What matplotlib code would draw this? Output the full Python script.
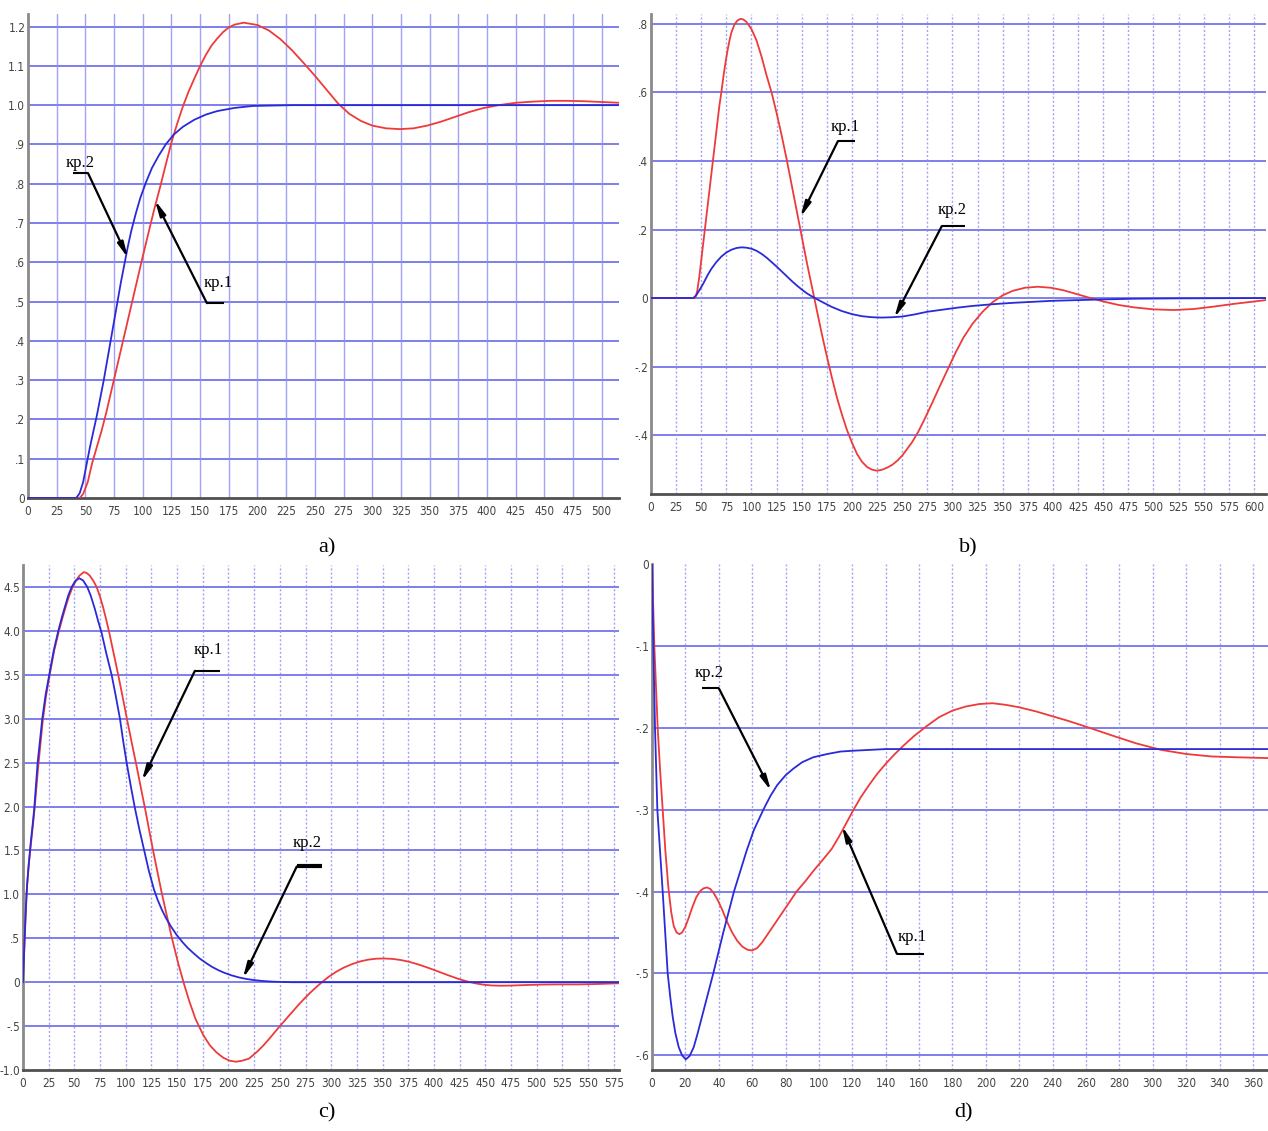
import matplotlib
matplotlib.use("Agg")
import matplotlib.pyplot as plt
from matplotlib import font_manager

# ---- panel a) ----
a_red_t = [0, 45, 48, 52, 56, 60, 64, 68, 72, 76, 80, 84, 88, 92, 96, 100, 105, 110, 115, 120, 125,
           130, 135, 140, 145, 150, 155, 160, 165, 170, 175, 180, 188, 200, 210, 220, 230, 240, 250,
           260, 270, 280, 290, 300, 312, 324, 336, 348, 360, 372, 384, 396, 410, 425, 440, 455, 470,
           485, 500, 516]
a_red_y = [0, 0, 0.01, 0.04, 0.09, 0.13, 0.17, 0.215, 0.265, 0.315, 0.365, 0.415, 0.465, 0.515, 0.565,
           0.615, 0.675, 0.735, 0.79, 0.848, 0.905, 0.953, 0.997, 1.035, 1.068, 1.1, 1.128, 1.152, 1.17,
           1.186, 1.198, 1.205, 1.21, 1.204, 1.19, 1.168, 1.14, 1.108, 1.075, 1.04, 1.005, 0.978, 0.96,
           0.948, 0.941, 0.939, 0.941, 0.948, 0.958, 0.97, 0.982, 0.992, 1.0, 1.006, 1.009, 1.011, 1.011,
           1.01, 1.008, 1.006]
a_blue_t = [0, 42, 45, 48, 51, 54, 57, 60, 63, 66, 69, 72, 75, 78, 81, 84, 87, 90, 94, 98, 103, 108,
            114, 120, 127, 135, 145, 155, 165, 180, 196, 230, 516]
a_blue_y = [0, 0, 0.012, 0.04, 0.085, 0.13, 0.17, 0.21, 0.255, 0.3, 0.35, 0.4, 0.45, 0.5, 0.55, 0.595,
            0.64, 0.68, 0.725, 0.765, 0.805, 0.84, 0.872, 0.9, 0.925, 0.945, 0.963, 0.976, 0.985, 0.993,
            0.998, 1.0, 1.0]
a_yticks = [0, 0.1, 0.2, 0.3, 0.4, 0.5, 0.6, 0.7, 0.8, 0.9, 1.0, 1.1, 1.2]
a_ylabels = ["0", ".1", ".2", ".3", ".4", ".5", ".6", ".7", ".8", ".9", "1.0", "1.1", "1.2"]
a_xticks = list(range(0, 501, 25))

# ---- panel b) ----
b_red_t = [0, 44, 46, 48, 50, 52, 54, 56, 58, 60, 62, 64, 66, 68, 70, 72, 74, 76, 78, 80, 83, 86, 89,
           92, 95, 100, 105, 110, 115, 120, 125, 130, 135, 140, 145, 150, 155, 160, 165, 170, 175, 180,
           185, 190, 195, 200, 205, 210, 215, 220, 225, 230, 235, 240, 245, 250, 255, 260, 266, 272,
           280, 287, 295, 303, 311, 320, 330, 340, 350, 360, 372, 385, 398, 410, 422, 435, 450, 465,
           480, 500, 520, 540, 560, 580, 612]
b_red_y = [0, 0, 0.02, 0.06, 0.11, 0.16, 0.21, 0.26, 0.31, 0.36, 0.41, 0.46, 0.51, 0.56, 0.6, 0.645,
           0.685, 0.72, 0.75, 0.775, 0.798, 0.81, 0.815, 0.813, 0.806, 0.785, 0.752, 0.705, 0.65, 0.6,
           0.54, 0.475, 0.405, 0.33, 0.255, 0.18, 0.105, 0.035, -0.035, -0.105, -0.17, -0.232, -0.29,
           -0.34, -0.385, -0.422, -0.455, -0.478, -0.493, -0.501, -0.504, -0.501, -0.495, -0.487,
           -0.475, -0.46, -0.44, -0.42, -0.39, -0.355, -0.305, -0.26, -0.21, -0.16, -0.115, -0.075,
           -0.04, -0.012, 0.008, 0.021, 0.03, 0.033, 0.03, 0.023, 0.013, 0.002, -0.01, -0.02, -0.027,
           -0.033, -0.035, -0.032, -0.025, -0.017, -0.006]
b_blue_t = [0, 42, 45, 48, 52, 56, 60, 65, 70, 75, 80, 85, 90, 95, 100, 105, 110, 115, 120, 125, 130,
            135, 140, 145, 150, 155, 160, 165, 170, 180, 190, 200, 210, 220, 230, 240, 250, 262, 275,
            290, 305, 320, 340, 360, 380, 400, 425, 450, 480, 520, 612]
b_blue_y = [0, 0, 0.008, 0.022, 0.042, 0.065, 0.085, 0.105, 0.121, 0.133, 0.141, 0.146, 0.148, 0.147,
            0.144, 0.138, 0.129, 0.118, 0.105, 0.092, 0.078, 0.064, 0.05, 0.037, 0.025, 0.014, 0.005,
            -0.003, -0.011, -0.026, -0.038, -0.047, -0.053, -0.056, -0.057, -0.056, -0.054, -0.048,
            -0.04, -0.034, -0.028, -0.023, -0.018, -0.014, -0.011, -0.008, -0.006, -0.004, -0.002,
            -0.001, 0.0]
b_yticks = [-0.4, -0.2, 0, 0.2, 0.4, 0.6, 0.8]
b_ylabels = ["-.4", "-.2", "0", ".2", ".4", ".6", ".8"]
b_xticks = list(range(0, 601, 25))

# ---- panel c) ----
c_red_t = [0, 1, 2, 3, 4, 5.8, 7.8, 9.8, 11.3, 14.8, 19.3, 22.5, 26, 30.5, 35, 39, 42, 45, 48, 51.5, 55,
           59.3, 62, 65, 68.5, 71.7, 75, 78, 81, 84, 88, 92.7, 97, 101.5, 106, 110.6, 115, 119.3, 123,
           127, 131, 135, 140, 145, 151, 157, 162, 168, 175.4, 182, 188.4, 195, 201, 207, 213, 220,
           228, 234, 240, 245, 250, 256, 262, 268, 274, 280, 286, 292, 298, 305, 312, 320, 328, 336,
           344, 352, 360, 368, 376, 384, 392, 400, 408, 416, 424, 432, 440, 448, 456, 465, 475, 490,
           505, 520, 540, 560, 580]
c_red_y = [0, 0.3, 0.6, 0.88, 1.1, 1.35, 1.58, 1.8, 1.97, 2.45, 2.98, 3.26, 3.5, 3.78, 4.0, 4.17, 4.29,
           4.4, 4.49, 4.57, 4.63, 4.67, 4.66, 4.63, 4.57, 4.5, 4.39, 4.27, 4.13, 3.98, 3.76, 3.5, 3.25,
           2.98, 2.72, 2.46, 2.2, 1.95, 1.72, 1.48, 1.25, 1.02, 0.76, 0.5, 0.22, -0.03, -0.22, -0.42,
           -0.6, -0.72, -0.8, -0.86, -0.893, -0.905, -0.895, -0.87, -0.79, -0.72, -0.64, -0.57, -0.5,
           -0.42, -0.34, -0.26, -0.185, -0.115, -0.05, 0.01, 0.065, 0.12, 0.165, 0.205, 0.236, 0.257,
           0.268, 0.27, 0.265, 0.252, 0.232, 0.205, 0.174, 0.14, 0.105, 0.07, 0.037, 0.01, -0.012,
           -0.028, -0.037, -0.04, -0.038, -0.032, -0.027, -0.025, -0.025, -0.02, -0.012]
c_blue_t = [0, 1, 2, 3, 4, 5.5, 7.5, 9.5, 11, 14.3, 18.8, 22, 25.6, 30, 34.4, 38, 41, 44, 47.4, 51,
            54.8, 58.5, 62.6, 66, 70, 73, 76.5, 81, 86.3, 90, 94.4, 97.5, 100.9, 105, 109, 113.5, 118,
            122.5, 127.4, 131, 135, 139, 144, 149.5, 155, 160, 166, 172, 178, 184, 190, 196, 203, 210,
            217, 225, 233, 242, 252, 262, 580]
c_blue_y = [0, 0.3, 0.6, 0.88, 1.1, 1.33, 1.58, 1.8, 1.98, 2.5, 3.0, 3.27, 3.5, 3.78, 4.0, 4.16, 4.28,
            4.4, 4.5, 4.57, 4.6, 4.575, 4.5, 4.4, 4.25, 4.12, 3.98, 3.75, 3.5, 3.28, 3.0, 2.75, 2.5,
            2.23, 1.98, 1.73, 1.5, 1.27, 1.06, 0.94, 0.83, 0.735, 0.635, 0.54, 0.46, 0.395, 0.33, 0.27,
            0.22, 0.175, 0.138, 0.107, 0.078, 0.055, 0.038, 0.024, 0.014, 0.007, 0.003, 0.0, 0.0]
c_yticks = [-1.0, -0.5, 0, 0.5, 1.0, 1.5, 2.0, 2.5, 3.0, 3.5, 4.0, 4.5]
c_ylabels = ["-1.0", "-.5", "0", ".5", "1.0", "1.5", "2.0", "2.5", "3.0", "3.5", "4.0", "4.5"]
c_xticks = list(range(0, 576, 25))

# ---- panel d) ----
d_red_t = [0, 0.7, 1.4, 2.4, 3.4, 4.8, 6.4, 8, 9.8, 11.5, 13, 14.7, 16.4, 18, 20, 22, 24, 26.5, 29, 31,
           33, 35, 37, 39.5, 42, 45, 48, 51, 54, 57, 60, 63, 66, 69, 72, 76, 80, 86.6, 92, 97, 102,
           107.6, 112, 116, 120.2, 125, 130, 135, 140, 145, 150, 157, 164.5, 172, 180, 188, 196, 204,
           212, 220, 230, 240, 250, 262, 275, 290, 305, 320, 335, 350, 369]
d_red_y = [0, -0.05, -0.1, -0.15, -0.2, -0.25, -0.3, -0.35, -0.395, -0.425, -0.442, -0.45, -0.452,
           -0.45, -0.443, -0.432, -0.42, -0.407, -0.399, -0.396, -0.395, -0.397, -0.402, -0.411, -0.422,
           -0.437, -0.45, -0.46, -0.467, -0.471, -0.472, -0.469, -0.462, -0.453, -0.444, -0.432, -0.42,
           -0.4, -0.387, -0.374, -0.362, -0.348, -0.333, -0.318, -0.302, -0.285, -0.27, -0.256, -0.244,
           -0.233, -0.223, -0.21, -0.198, -0.187, -0.179, -0.174, -0.171, -0.17, -0.172, -0.175, -0.18,
           -0.186, -0.192, -0.2, -0.209, -0.219, -0.227, -0.232, -0.235, -0.236, -0.237]
d_blue_t = [0, 0.4, 0.8, 1.3, 1.8, 2.5, 3.2, 4.8, 6.4, 7.9, 9.4, 11, 12.4, 14, 16, 18, 20.2, 22.5, 25,
            27.5, 30.3, 33.5, 36.7, 39.7, 42.7, 45.9, 49.1, 52.9, 56.7, 61, 66.7, 71, 75, 80, 84.6, 90,
            96.6, 105, 113, 120.6, 140, 170, 369]
d_blue_y = [0, -0.05, -0.1, -0.15, -0.2, -0.25, -0.3, -0.35, -0.4, -0.45, -0.5, -0.53, -0.553, -0.573,
            -0.59, -0.6, -0.605, -0.601, -0.59, -0.572, -0.55, -0.525, -0.5, -0.475, -0.45, -0.425,
            -0.4, -0.375, -0.35, -0.325, -0.3, -0.283, -0.27, -0.258, -0.25, -0.242, -0.236, -0.232,
            -0.229, -0.228, -0.226, -0.226, -0.226]
d_yticks = [-0.6, -0.5, -0.4, -0.3, -0.2, -0.1, 0]
d_ylabels = ["-.6", "-.5", "-.4", "-.3", "-.2", "-.1", "0"]
d_xticks = list(range(0, 361, 20))

RED = "#ee3a3a"
BLUE = "#2a2ad8"
GRID_H = "#5c5ce8"
GRID_V = "#8c8cf2"

names = {f.name for f in font_manager.fontManager.ttflist}
TICK_FONT = "Liberation Sans Narrow" if "Liberation Sans Narrow" in names else "DejaVu Sans"
TICK_SIZE = 9.5 if TICK_FONT == "Liberation Sans Narrow" else 8.5
SERIF = "Liberation Serif"

fig = plt.figure(figsize=(12.68, 11.31), dpi=100)


def panel(rect, xlim, ylim, xticks, yticks, ylabels, red, blue, vdash):
    ax = fig.add_axes(rect)
    ax.set_xlim(*xlim)
    ax.set_ylim(*ylim)
    for v in yticks:
        if ylim[0] < v < ylim[1]:
            ax.axhline(v, color=GRID_H, lw=1.3, alpha=0.85, zorder=1)
    for v in xticks:
        if v > xlim[0]:
            ax.axvline(v, color=GRID_V, lw=1.0, alpha=0.8, zorder=1,
                       linestyle=(0, (1.5, 1.5)) if vdash else "-")
    ax.plot(red[0], red[1], color=RED, lw=1.3, zorder=3)
    ax.plot(blue[0], blue[1], color=BLUE, lw=1.3, zorder=3)
    ax.set_xticks(xticks)
    ax.set_xticklabels([str(v) for v in xticks])
    ax.set_yticks(yticks)
    ax.set_yticklabels(ylabels)
    ax.tick_params(length=0, labelsize=TICK_SIZE, labelcolor="#444444", pad=5)
    ax.tick_params(axis="y", pad=2)
    for lab in ax.get_xticklabels() + ax.get_yticklabels():
        lab.set_fontfamily(TICK_FONT)
        lab.set_fontstretch("condensed")
    ax.spines["top"].set_visible(False)
    ax.spines["right"].set_visible(False)
    ax.spines["left"].set_color("#8a8a8a")
    ax.spines["left"].set_linewidth(2)
    ax.spines["bottom"].set_color("#505050")
    ax.spines["bottom"].set_linewidth(2)
    return ax


def leader(ax, label, text_xy, h_x, h_y, corner_x, tip, lw_h=1.5):
    ax.plot(h_x, [h_y, h_y], color="black", lw=lw_h, zorder=5, solid_capstyle="butt")
    ax.annotate("", xy=tip, xytext=(corner_x, h_y),
                arrowprops=dict(arrowstyle="-|>,head_length=0.9,head_width=0.18",
                                color="black", lw=1.6, shrinkA=0, shrinkB=0),
                zorder=5)
    ax.text(text_xy[0], text_xy[1], label, ha="center", va="center",
            fontfamily=SERIF, fontsize=12, zorder=6)


ax_a = panel([0.0221, 0.5597, 0.466, 0.4279], (0, 515), (0, 1.232), a_xticks, a_yticks, a_ylabels,
             (a_red_t, a_red_y), (a_blue_t, a_blue_y), vdash=False)
leader(ax_a, "кр.2", (45.3, 0.852), [39.2, 52.3], 0.827, 52.3, (87.1, 0.611))
leader(ax_a, "кр.1", (165.5, 0.547), [155.9, 170.7], 0.496, 155.9, (110.6, 0.758))

ax_b = panel([0.5134, 0.5632, 0.485, 0.4244], (0, 612), (-0.572, 0.829), b_xticks, b_yticks, b_ylabels,
             (b_red_t, b_red_y), (b_blue_t, b_blue_y), vdash=True)
leader(ax_b, "кр.1", (192.9, 0.499), [186, 202.8], 0.458, 186, (148.6, 0.236))
leader(ax_b, "кр.2", (299.2, 0.257), [289.4, 312], 0.21, 289.4, (242, -0.058))

ax_c = panel([0.0181, 0.0539, 0.470, 0.4465], (0, 580), (-1.0, 4.75), c_xticks, c_yticks, c_ylabels,
             (c_red_t, c_red_y), (c_blue_t, c_blue_y), vdash=True)
leader(ax_c, "кр.1", (180, 3.78), [167.3, 191.6], 3.545, 167.3, (115.8, 2.295))
leader(ax_c, "кр.2", (276.3, 1.59), [266.5, 290.9], 1.318, 266.5, (214, 0.045), lw_h=3)

ax_d = panel([0.5142, 0.0539, 0.4858, 0.4474], (0, 369), (-0.618, 0), d_xticks, d_yticks, d_ylabels,
             (d_red_t, d_red_y), (d_blue_t, d_blue_y), vdash=True)
leader(ax_d, "кр.2", (34.1, -0.1325), [29.9, 40.1], -0.152, 40.1, (71.3, -0.277))
leader(ax_d, "кр.1", (155.7, -0.455), [146.7, 162.9], -0.476, 146.7, (113.8, -0.320))

for label, (x, y) in zip(["a)", "b)", "c)", "d)"],
                         [(327, 548), (968, 548), (327, 1113), (963, 1113)]):
    fig.text(x / 1268, 1 - y / 1131, label, ha="center", va="center",
             fontfamily=SERIF, fontsize=16)

fig.savefig("out.png", dpi=100)
